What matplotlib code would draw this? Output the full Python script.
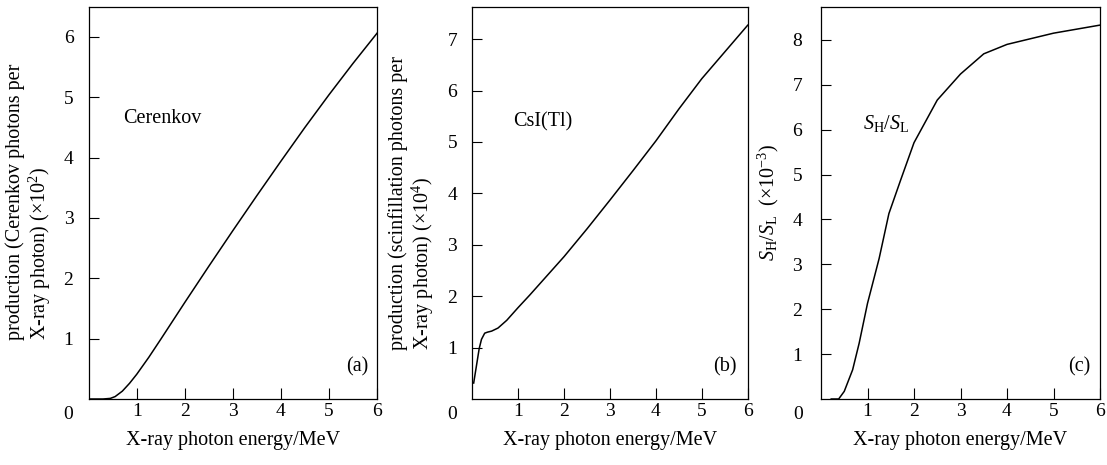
import matplotlib
matplotlib.use("Agg")
import matplotlib.pyplot as plt

plt.rcParams["font.family"] = ["Liberation Serif", "DejaVu Serif"]
plt.rcParams["mathtext.fontset"] = "custom"
plt.rcParams["mathtext.rm"] = "Liberation Serif"
plt.rcParams["mathtext.it"] = "Liberation Serif:italic"

# (a) Cerenkov photon yield, x10^2
cer_e = [0, 0.3, 0.45, 0.55, 0.7, 0.85, 1.0, 1.25, 1.5, 2.0, 2.5, 3.0, 3.5, 4.0, 4.5, 5.0, 5.5, 6.0]
cer_y = [0, 0, 0.01, 0.04, 0.13, 0.26, 0.41, 0.69, 0.99, 1.60, 2.20, 2.79, 3.37, 3.94, 4.50, 5.04, 5.56, 6.06]

# (b) CsI(Tl) scintillation photon yield, x10^4
csi_e = [0.03, 0.1, 0.15, 0.2, 0.27, 0.33, 0.42, 0.56, 0.75, 1.0, 1.25, 1.5, 2.0, 2.5, 3.0, 3.5, 4.0, 4.5, 5.0, 5.5, 6.0]
csi_y = [0.31, 0.70, 0.98, 1.16, 1.28, 1.30, 1.32, 1.38, 1.53, 1.78, 2.02, 2.27, 2.77, 3.31, 3.87, 4.44, 5.02, 5.64, 6.23, 6.75, 7.27]

# (c) S_H/S_L ratio, x10^-3
ratio_e = [0.22, 0.38, 0.5, 0.68, 0.82, 1.0, 1.25, 1.46, 1.71, 2.0, 2.5, 3.0, 3.5, 4.0, 5.0, 6.0]
ratio_y = [0, 0, 0.17, 0.65, 1.24, 2.13, 3.13, 4.13, 4.87, 5.71, 6.66, 7.24, 7.69, 7.90, 8.15, 8.33]

xticks = [1, 2, 3, 4, 5, 6]
xlabel = "X-ray photon energy/MeV"

W, H = 1107, 465
fig = plt.figure(figsize=(W / 100, H / 100), dpi=100)


def make_axes(left_px, right_px, ymax, ylab_pad):
    ax = fig.add_axes([left_px / W, (H - 399) / H, (right_px - left_px) / W, (399 - 6.7) / H])
    ax.set_xlim(0, 6)
    ax.set_ylim(0, ymax)
    ax.set_xticks(xticks)
    ax.tick_params(axis="x", direction="in", length=8, width=0.8, labelsize=14, pad=3.0)
    ax.tick_params(axis="y", direction="in", length=7, width=0.8, labelsize=14, pad=ylab_pad)
    for s in ax.spines.values():
        s.set_linewidth(0.9)
    ax.text(0.5, -0.105, xlabel, transform=ax.transAxes, ha="center", va="center", fontsize=14.5)
    return ax


# panel a
ax1 = make_axes(88.7, 377, 6.5, 11.0)
ax1.plot(cer_e, cer_y, color="black", lw=1.1)
ax1.set_yticks([1, 2, 3, 4, 5, 6])
ax1.text(0.119, 0.716, "Cerenkov", transform=ax1.transAxes, ha="left", va="center", fontsize=14.5)
ax1.text(0.969, 0.082, "(a)", transform=ax1.transAxes, ha="right", va="center", fontsize=14.5)
ax1.annotate("0", xy=(0, 0), xycoords="axes fraction", xytext=(-20.4, -15), textcoords="offset pixels",
             ha="center", va="center", fontsize=14)
fig.text(29.2 / W, 1 - 340 / H, "production (Cerenkov photons per\nX-ray photon) (×10$^{2}$)",
         rotation=90, ha="center", va="bottom", multialignment="left", fontsize=14.5, linespacing=1.1)

# panel b
ax2 = make_axes(472.3, 747.7, 7.63, 11.0)
ax2.plot(csi_e, csi_y, color="black", lw=1.1)
ax2.set_yticks([1, 2, 3, 4, 5, 6, 7])
ax2.text(0.149, 0.707, "CsI(Tl)", transform=ax2.transAxes, ha="left", va="center", fontsize=14.5)
ax2.text(0.96, 0.082, "(b)", transform=ax2.transAxes, ha="right", va="center", fontsize=14.5)
ax2.annotate("0", xy=(0, 0), xycoords="axes fraction", xytext=(-20.6, -15), textcoords="offset pixels",
             ha="center", va="center", fontsize=14)
fig.text(411.7 / W, 1 - 350 / H, "production (scinfillation photons per\nX-ray photon) (×10$^{4}$)",
         rotation=90, ha="center", va="bottom", multialignment="left", fontsize=14.5, linespacing=1.1)

# panel c
ax3 = make_axes(821, 1100, 8.74, 13.6)
ax3.plot(ratio_e, ratio_y, color="black", lw=1.1)
ax3.set_yticks([1, 2, 3, 4, 5, 6, 7, 8])
ax3.text(0.152, 0.703, r"$S_{\rm H}/S_{\rm L}$", transform=ax3.transAxes, ha="left", va="center", fontsize=14.5)
ax3.text(0.964, 0.082, "(c)", transform=ax3.transAxes, ha="right", va="center", fontsize=14.5)
ax3.annotate("0", xy=(0, 0), xycoords="axes fraction", xytext=(-23, -15), textcoords="offset pixels",
             ha="center", va="center", fontsize=14)
fig.text(768.3 / W, 1 - 202.5 / H, r"$S_{\rm H}/S_{\rm L}$  (×10$^{-3}$)",
         rotation=90, ha="center", va="center", fontsize=14.5)

fig.savefig("out.png", dpi=100)
